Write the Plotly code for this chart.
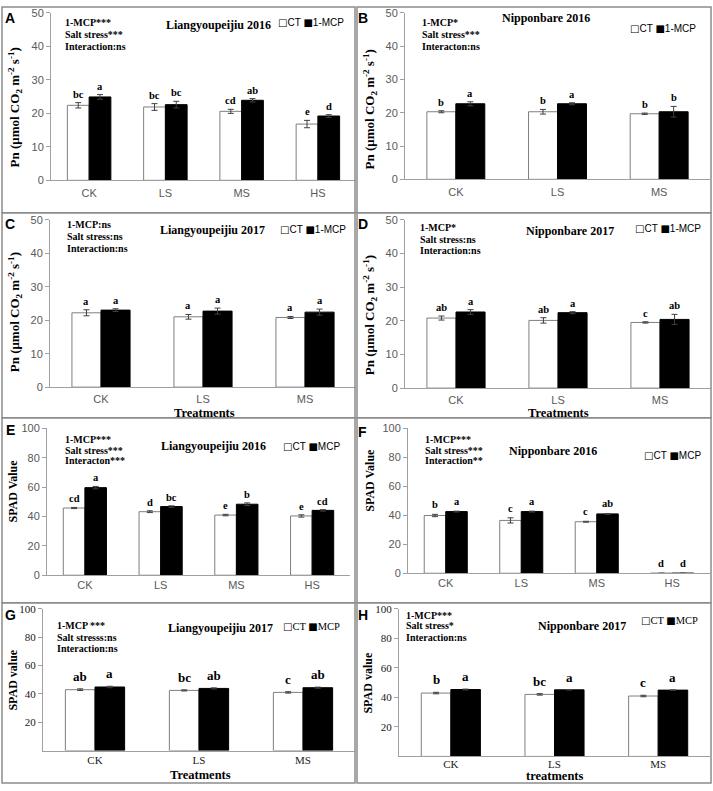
import plotly.graph_objects as go

W, H = 713, 791

# ---------------- data ----------------
cats4 = ["CK", "LS", "MS", "HS"]
cats3 = ["CK", "LS", "MS"]

# A: Pn, Liangyoupeijiu 2016
A_ct = [22.4, 21.9, 20.6, 16.8]
A_ct_err = [0.8, 1.0, 0.6, 1.1]
A_mcp = [24.9, 22.6, 23.9, 19.2]
A_mcp_err = [0.7, 1.0, 0.5, 0.4]
A_ct_let = ["bc", "bc", "cd", "e"]
A_mcp_let = ["a", "bc", "ab", "d"]

# B: Pn, Nipponbare 2016
B_ct = [20.3, 20.3, 19.7]
B_ct_err = [0.3, 0.7, 0.2]
B_mcp = [22.7, 22.7, 20.3]
B_mcp_err = [0.6, 0.3, 1.6]
B_ct_let = ["b", "b", "b"]
B_mcp_let = ["a", "a", "b"]

# C: Pn, Liangyoupeijiu 2017
C_ct = [22.2, 21.0, 20.8]
C_ct_err = [0.9, 0.7, 0.3]
C_mcp = [23.0, 22.7, 22.4]
C_mcp_err = [0.4, 0.9, 0.9]
C_ct_let = ["a", "a", "a"]
C_mcp_let = ["a", "a", "a"]

# D: Pn, Nipponbare 2017
D_ct = [20.8, 20.1, 19.5]
D_ct_err = [0.6, 0.8, 0.2]
D_mcp = [22.6, 22.4, 20.4]
D_mcp_err = [0.7, 0.3, 1.5]
D_ct_let = ["ab", "ab", "c"]
D_mcp_let = ["a", "a", "ab"]

# E: SPAD, Liangyoupeijiu 2016
E_ct = [45.8, 43.3, 41.0, 40.4]
E_ct_err = [0.4, 0.6, 0.5, 0.8]
E_mcp = [59.7, 46.8, 48.4, 44.2]
E_mcp_err = [0.8, 0.5, 0.9, 0.5]
E_ct_let = ["cd", "d", "e", "e"]
E_mcp_let = ["a", "bc", "b", "cd"]

# F: SPAD, Nipponbare 2016 (HS plants: no value)
F_ct = [39.9, 36.5, 35.6, 0]
F_ct_err = [0.8, 1.8, 0.3, None]
F_mcp = [42.6, 42.6, 41.0, 0]
F_mcp_err = [0.3, 0.3, 0.3, None]
F_ct_let = ["b", "c", "c", "d"]
F_mcp_let = ["a", "a", "ab", "d"]

# G: SPAD, Liangyoupeijiu 2017
G_ct = [42.9, 42.4, 41.0]
G_ct_err = [0.6, 0.4, 0.5]
G_mcp = [44.8, 43.8, 44.3]
G_mcp_err = [0.5, 0.4, 0.4]
G_ct_let = ["ab", "bc", "c"]
G_mcp_let = ["a", "ab", "ab"]

# H: SPAD, Nipponbare 2017
H_ct = [42.9, 42.0, 40.9]
H_ct_err = [0.5, 0.5, 0.5]
H_mcp = [45.3, 45.1, 44.9]
H_mcp_err = [0.3, 0.2, 0.2]
H_ct_let = ["b", "bc", "c"]
H_mcp_let = ["a", "a", "a"]

titles = ["Liangyoupeijiu 2016", "Nipponbare 2016", "Liangyoupeijiu 2017", "Nipponbare 2017",
          "Liangyoupeijiu 2016", "Nipponbare 2016", "Liangyoupeijiu 2017", "Nipponbare 2017"]
stats = [
    ["1-MCP***", "Salt stress***", "Interaction:ns"],
    ["1-MCP*", "Salt stress***", "Interacton:ns"],
    ["1-MCP:ns", "Salt stress:ns", "Interaction:ns"],
    ["1-MCP*", "Salt stress:ns", "Interaction:ns"],
    ["1-MCP***", "Salt stress***", "Interacton***"],
    ["1-MCP***", "Salt stress***", "Interaction**"],
    ["1-MCP ***", "Salt stresss:ns", "Interaction:ns"],
    ["1-MCP***", "Salt stress*", "Interaction:ns"],
]
series_names = ["1-MCP"] * 4 + ["MCP"] * 4
pn_title = "Pn (μmol CO<sub>2</sub> m<sup>-2</sup> s<sup>-1</sup>)"
ytitles = [pn_title] * 4 + ["SPAD Value", "SPAD Value", "SPAD value", "SPAD value"]
xtitles = [None, None, "Treatments", "Treatments", None, None, "Treatments", "treatments"]
letters = ["A", "B", "C", "D", "E", "F", "G", "H"]

panel_data = [
    (cats4, A_ct, A_ct_err, A_mcp, A_mcp_err, A_ct_let, A_mcp_let),
    (cats3, B_ct, B_ct_err, B_mcp, B_mcp_err, B_ct_let, B_mcp_let),
    (cats3, C_ct, C_ct_err, C_mcp, C_mcp_err, C_ct_let, C_mcp_let),
    (cats3, D_ct, D_ct_err, D_mcp, D_mcp_err, D_ct_let, D_mcp_let),
    (cats4, E_ct, E_ct_err, E_mcp, E_mcp_err, E_ct_let, E_mcp_let),
    (cats4, F_ct, F_ct_err, F_mcp, F_mcp_err, F_ct_let, F_mcp_let),
    (cats3, G_ct, G_ct_err, G_mcp, G_mcp_err, G_ct_let, G_mcp_let),
    (cats3, H_ct, H_ct_err, H_mcp, H_mcp_err, H_ct_let, H_mcp_let),
]

# ---------------- geometry (pixels) ----------------
geo = [
    dict(x=(51, 356), y=(7, 177), ymax=50, tv=[0, 10, 20, 30, 40, 50], serif=False,
         letter=(10, 12), stat_x=63, stat_y=[17, 29, 41], title=(218, 19), leg=(346, 17),
         ytit=(15, 103), xtit=None, ly=(10.5, 1), so=2),
    dict(x=(405, 710), y=(7, 176), ymax=50, tv=[0, 10, 20, 30, 40, 50], serif=False,
         letter=(363, 12), stat_x=420, stat_y=[17, 29, 41], title=(546, 12), leg=(698, 23),
         ytit=(370, 105), xtit=None, ly=(10.5, 1), so=2),
    dict(x=(50, 356), y=(217, 387), ymax=50, tv=[0, 10, 20, 30, 40, 50], serif=False,
         letter=(10, 221), stat_x=65, stat_y=[222, 234, 246], title=(212, 227), leg=(348, 227),
         ytit=(15, 311), xtit=(204, 413), ly=(10.5, 1), so=2),
    dict(x=(405, 711), y=(217, 388), ymax=50, tv=[0, 10, 20, 30, 40, 50], serif=False,
         letter=(363, 221), stat_x=418, stat_y=[225, 237, 248], title=(570, 228), leg=(703, 226),
         ytit=(370, 314), xtit=(558, 413), ly=(10.5, 1), so=2),
    dict(x=(47, 350), y=(429, 578), ymax=100, tv=[0, 20, 40, 60, 80, 100], serif=False,
         letter=(10, 431), stat_x=63, stat_y=[440, 451, 461], title=(213, 447), leg=(342, 447),
         ytit=(13, 493), xtit=None, ly=(10.5, 1), so=0),
    dict(x=(408, 710), y=(429, 576), ymax=100, tv=[0, 20, 40, 60, 80, 100], serif=False,
         letter=(362, 433), stat_x=423, stat_y=[440, 451, 462], title=(553, 452), leg=(703, 456),
         ytit=(370, 482), xtit=None, ly=(10.5, 2), so=0),
    dict(x=(43, 355), y=(612, 756), ymax=100, tv=[20, 40, 60, 80, 100], serif=True,
         letter=(10, 618), stat_x=55, stat_y=[629, 641, 652], title=(220, 632), leg=(342, 630),
         ytit=(13, 685), xtit=(200, 781), ly=(13, 3), so=-1),
    dict(x=(399, 710), y=(612, 762), ymax=100, tv=[20, 40, 60, 80, 100], serif=True,
         letter=(363, 618), stat_x=404, stat_y=[619, 629, 641], title=(582, 630), leg=(700, 624),
         ytit=(368, 688), xtit=(555, 782), ly=(13, 3), so=-3),
]

SERIF = "Liberation Serif"
SANS = "Liberation Sans"
BARGAP = 0.43


def fx(p):
    return p / W


def fy(p):
    return 1 - p / H


def glyph(ch):
    return f'<span style="font-family:DejaVu Sans;font-size:10px">{ch}</span>'


fig = go.Figure()
annotations = []
shapes = []
layout_axes = {}

half = (1 - BARGAP) / 4.0

for i, (d, g) in enumerate(zip(panel_data, geo)):
    n = i + 1
    xa = "x" if n == 1 else f"x{n}"
    ya = "y" if n == 1 else f"y{n}"
    cats, ct, ct_err, mcp, mcp_err, ct_let, mcp_let = d
    fig.add_trace(go.Bar(
        x=cats, y=ct, name="CT", xaxis=xa, yaxis=ya, showlegend=False,
        marker=dict(color="white", line=dict(color="#7F7F7F", width=1)),
        error_y=dict(type="data", array=ct_err, color="#404040", thickness=1, width=3),
    ))
    fig.add_trace(go.Bar(
        x=cats, y=mcp, name=series_names[i], xaxis=xa, yaxis=ya, showlegend=False,
        marker=dict(color="black", line=dict(color="black", width=1)),
        error_y=dict(type="data", array=mcp_err, color="#404040", thickness=1, width=3),
    ))
    tick_font = dict(family=SERIF if g["serif"] else SANS, size=11,
                     color="#202020" if g["serif"] else "#595959")
    layout_axes["xaxis" if n == 1 else f"xaxis{n}"] = dict(
        domain=[fx(g["x"][0]), fx(g["x"][1])], anchor=ya, type="category",
        showline=True, linecolor="#A0A0A0", linewidth=1, ticks="", showgrid=False,
        zeroline=False, tickfont=tick_font, ticklabelstandoff=g["so"])
    layout_axes["yaxis" if n == 1 else f"yaxis{n}"] = dict(
        domain=[fy(g["y"][1]), fy(g["y"][0])], anchor=xa, range=[0, g["ymax"]],
        tickvals=g["tv"], showline=True, linecolor="#A0A0A0", linewidth=1,
        ticks="outside", ticklen=4, tickcolor="#A0A0A0", showgrid=False,
        zeroline=False, tickfont=tick_font)

    # significance letters
    lsize, lshift = g["ly"]
    for k in range(len(cats)):
        for off, val, err, lab in ((-half, ct[k], ct_err[k], ct_let[k]),
                                   (half, mcp[k], mcp_err[k], mcp_let[k])):
            annotations.append(dict(
                x=k + off, y=val + (err or 0), xref=xa, yref=ya, text=f"<b>{lab}</b>",
                showarrow=False, yanchor="bottom", xanchor="center", yshift=lshift,
                font=dict(family=SERIF, size=lsize, color="black")))

    # panel letter
    annotations.append(dict(x=fx(g["letter"][0]), y=fy(g["letter"][1]), xref="paper",
                            yref="paper", text=f"<b>{letters[i]}</b>", showarrow=False,
                            xanchor="center", yanchor="middle",
                            font=dict(family=SANS, size=14, color="black")))
    # stats
    for line, yy in zip(stats[i], g["stat_y"]):
        annotations.append(dict(x=fx(g["stat_x"]), y=fy(yy), xref="paper", yref="paper",
                                text=f"<b>{line}</b>", showarrow=False, xanchor="left",
                                yanchor="middle",
                                font=dict(family=SERIF, size=10, color="black")))
    # title
    annotations.append(dict(x=fx(g["title"][0]), y=fy(g["title"][1]), xref="paper",
                            yref="paper", text=f"<b>{titles[i]}</b>", showarrow=False,
                            xanchor="center", yanchor="middle",
                            font=dict(family=SERIF, size=12, color="black")))
    # legend
    leg_font = dict(family=SERIF if g["serif"] else SANS, size=10.5 if g["serif"] else 10,
                    color="black")
    annotations.append(dict(x=fx(g["leg"][0]), y=fy(g["leg"][1]), xref="paper",
                            yref="paper",
                            text=f"{glyph('□')}CT {glyph('■')}{series_names[i]}",
                            showarrow=False, xanchor="right", yanchor="middle", font=leg_font))
    # y title
    annotations.append(dict(x=fx(g["ytit"][0]), y=fy(g["ytit"][1]), xref="paper",
                            yref="paper", text=f"<b>{ytitles[i]}</b>", showarrow=False,
                            textangle=-90, xanchor="center", yanchor="middle",
                            font=dict(family=SERIF, size=13 if i < 4 else 12, color="black")))
    # x title
    if g["xtit"] is not None:
        annotations.append(dict(x=fx(g["xtit"][0]), y=fy(g["xtit"][1]), xref="paper",
                                yref="paper", text=f"<b>{xtitles[i]}</b>", showarrow=False,
                                xanchor="center", yanchor="middle",
                                font=dict(family=SERIF, size=12.5, color="black")))

# panel frames
rows = [(1, 210), (210, 418), (418, 606), (606, 789)]
cols = [(2, 355), (357, 711)]
for (y0, y1) in rows:
    for (x0, x1) in cols:
        shapes.append(dict(type="rect", xref="paper", yref="paper",
                           x0=fx(x0), x1=fx(x1), y0=fy(y1), y1=fy(y0),
                           line=dict(color="#8C8C8C", width=1.5), layer="above"))

fig.update_layout(
    width=W, height=H, autosize=False,
    margin=dict(l=0, r=0, t=0, b=0),
    paper_bgcolor="white", plot_bgcolor="white",
    barmode="group", bargap=BARGAP, bargroupgap=0,
    annotations=annotations, shapes=shapes,
    **layout_axes,
)

fig.write_html(
    "out.html",
    config={"displayModeBar": False},
    post_script="document.body.style.margin='0';document.body.style.overflow='hidden';",
)
